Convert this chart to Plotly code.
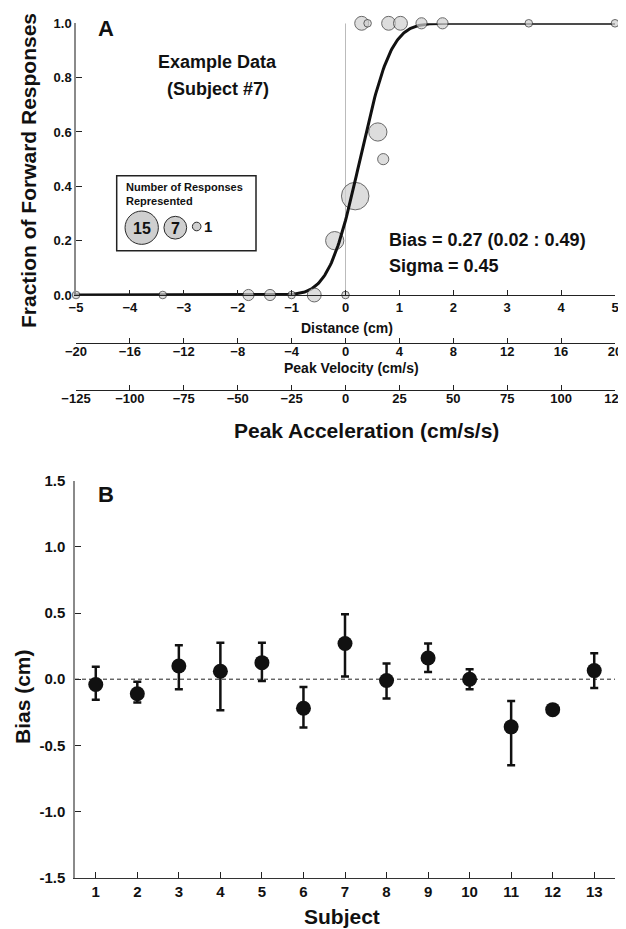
import math
import plotly.graph_objects as go

# page body has an 8px margin, so the figure is drawn 8px in from the top-left
OFF = 8
W, H = 626 - OFF, 929 - OFF
FONT = "Liberation Sans"

# ---------------- Panel A data (subject #7) ----------------
dist_cm = [-5.0, -3.39, -1.80, -1.40, -1.00, -0.58, 0.0, -0.20, 0.18, 0.60, 0.70,
           0.30, 0.41, 0.80, 1.02, 1.41, 1.80, 3.40, 5.0]
frac_fwd = [0.0, 0.0, 0.0, 0.0, 0.0, 0.0, 0.0, 0.20, 0.364, 0.60, 0.50,
            1.0, 1.0, 1.0, 1.0, 1.0, 1.0, 1.0, 1.0]
n_resp = [1, 1, 2, 2, 1, 3, 1, 5, 11, 5, 2,
          3, 1, 3, 3, 2, 2, 1, 1]
fit_bias = 0.27
fit_sigma = 0.45
legend_n = [15, 7, 1]

dist_ticks = [-5, -4, -3, -2, -1, 0, 1, 2, 3, 4, 5]
vel_ticks = [-20, -16, -12, -8, -4, 0, 4, 8, 12, 16, 20]
acc_ticks = [-125, -100, -75, -50, -25, 0, 25, 50, 75, 100, 125]
frac_ticks = [0.0, 0.2, 0.4, 0.6, 0.8, 1.0]

# ---------------- Panel B data ----------------
subjects = list(range(1, 14))
bias = [-0.04, -0.11, 0.10, 0.06, 0.125, -0.22, 0.27, -0.01, 0.16, 0.0, -0.36, -0.23, 0.065]
bias_hi = [0.095, -0.02, 0.257, 0.276, 0.276, -0.058, 0.49, 0.118, 0.269, 0.075, -0.164, -0.20, 0.196]
bias_lo = [-0.156, -0.177, -0.075, -0.234, -0.013, -0.365, 0.02, -0.146, 0.055, -0.075, -0.65, -0.26, -0.066]
bias_ticks = [-1.5, -1.0, -0.5, 0.0, 0.5, 1.0, 1.5]
bias_ticktext = ["-1.5", "-1.0", "-0.5", "0.0", "0.5", "1.0", "1.5"]


def px(x):
    return (x - OFF) / W


def py(y):
    return 1 - (y - OFF) / H


def diam(n):
    return 8.6 * math.sqrt(n) - 1


fig = go.Figure()

# fitted cumulative Gaussian
xs = [-5 + i * 0.02 for i in range(501)]
ys = [0.5 * (1 + math.erf((x - fit_bias) / (fit_sigma * math.sqrt(2)))) for x in xs]

mid = [i for i in range(len(dist_cm)) if 0 < frac_fwd[i] < 1]
edge = [i for i in range(len(dist_cm)) if not (0 < frac_fwd[i] < 1)]

marker_style = dict(color="#cfcfcf", line=dict(color="#2a2a2a", width=1))

fig.add_trace(go.Scatter(
    x=[dist_cm[i] for i in mid], y=[frac_fwd[i] for i in mid], mode="markers",
    marker=dict(size=[diam(n_resp[i]) for i in mid], **marker_style),
    cliponaxis=False, showlegend=False, hoverinfo="skip"))
fig.add_trace(go.Scatter(
    x=xs, y=ys, mode="lines", line=dict(color="#111111", width=3),
    cliponaxis=False, showlegend=False, hoverinfo="skip"))
fig.add_trace(go.Scatter(
    x=[dist_cm[i] for i in edge], y=[frac_fwd[i] for i in edge], mode="markers",
    marker=dict(size=[diam(n_resp[i]) for i in edge], **marker_style),
    cliponaxis=False, showlegend=False, hoverinfo="skip"))

# invisible traces to carry the secondary distance axes
fig.add_trace(go.Scatter(x=[vel_ticks[0], vel_ticks[-1]], y=[0, 0], xaxis="x2", yaxis="y",
                         mode="markers", marker=dict(opacity=0), showlegend=False, hoverinfo="skip"))
fig.add_trace(go.Scatter(x=[acc_ticks[0], acc_ticks[-1]], y=[0, 0], xaxis="x3", yaxis="y",
                         mode="markers", marker=dict(opacity=0), showlegend=False, hoverinfo="skip"))

# panel B
fig.add_trace(go.Scatter(
    x=subjects, y=bias, mode="markers", xaxis="x4", yaxis="y4",
    marker=dict(size=15, color="#111111"),
    error_y=dict(type="data", symmetric=False,
                 array=[h - b for h, b in zip(bias_hi, bias)],
                 arrayminus=[b - l for b, l in zip(bias, bias_lo)],
                 thickness=2.5, width=4, color="#111111"),
    showlegend=False, hoverinfo="skip"))

tickfont = dict(family=FONT, size=13, color="#111111", weight="bold")
common = dict(showgrid=False, zeroline=False, showline=True, ticks="inside",
              tickcolor="#222222", tickfont=tickfont, fixedrange=True, automargin=False,
              ticklabeloverflow="allow")
bigtick = dict(tickfont, size=15)

fig.update_layout(
    template="none",
    width=W, height=H, margin=dict(l=0, r=0, t=0, b=0, pad=0, autoexpand=False),
    paper_bgcolor="white", plot_bgcolor="white",
    xaxis=dict(domain=[px(76), px(615)], range=[-5, 5], anchor="y", tickvals=dist_ticks,
               ticklen=5, linecolor="#222222", linewidth=1, **common),
    yaxis=dict(domain=[py(295), py(23.3)], range=[0, 1], anchor="x", tickvals=frac_ticks,
               ticktext=["%.1f" % v for v in frac_ticks], ticklen=6,
               linecolor="#8a8a8a", linewidth=1.5, **common),
    xaxis2=dict(overlaying="x", anchor="free", position=py(343), side="bottom",
                range=[-20, 20], tickvals=vel_ticks, ticklen=5, ticklabelstandoff=-4,
                linecolor="#222222", linewidth=1, **common),
    xaxis3=dict(overlaying="x", anchor="free", position=py(390), side="bottom",
                range=[-125, 125], tickvals=acc_ticks, ticklen=5, ticklabelstandoff=-4,
                linecolor="#222222", linewidth=1, **common),
    xaxis4=dict(domain=[px(75), px(615)], range=[0.5, 13.5], anchor="y4", tickvals=subjects,
                ticklen=6, linecolor="#333333", linewidth=1.2,
                **{**common, "tickfont": bigtick}),
    yaxis4=dict(domain=[py(877.7), py(480.7)], range=[-1.5, 1.5], anchor="x4",
                tickvals=bias_ticks, ticktext=bias_ticktext, ticklen=6, ticklabelstandoff=5,
                linecolor="#8a8a8a", linewidth=1.5,
                **{**common, "tickfont": bigtick}),
)

shapes = [
    dict(type="line", xref="x", yref="y", x0=0, x1=0, y0=0, y1=1,
         line=dict(color="#bbbbbb", width=1), layer="below"),
    dict(type="line", xref="x4", yref="y4", x0=0.5, x1=13.5, y0=0, y1=0,
         line=dict(color="#222222", width=1, dash="4px,3px"), layer="below"),
    dict(type="rect", xref="paper", yref="paper", x0=px(116.7), x1=px(256),
         y0=py(250.7), y1=py(175.7), line=dict(color="#222222", width=1.5),
         fillcolor="white", layer="below"),
]
leg_cx = [141.7, 175.3, 196.7]
leg_cy = [227.7, 227.7, 226.5]
for n, cx, cy in zip(legend_n, leg_cx, leg_cy):
    r = (diam(n) + 1) / 2
    shapes.append(dict(type="circle", xref="paper", yref="paper",
                       x0=px(cx - r), x1=px(cx + r), y0=py(cy + r), y1=py(cy - r),
                       fillcolor="#cfcfcf", line=dict(color="#2a2a2a", width=1)))
fig.update_layout(shapes=shapes)


def ann(text, x, y, size, xanchor="center", angle=0):
    return dict(text="<b>%s</b>" % text, x=px(x), y=py(y), xref="paper", yref="paper",
                xanchor=xanchor, yanchor="middle", showarrow=False, textangle=angle,
                font=dict(family=FONT, size=size, color="#111111"))


annotations = [
    ann("A", 96, 28, 22, "left"),
    ann("Example Data", 217, 62, 18),
    ann("(Subject #7)", 218, 89, 18),
    ann("Bias = 0.27 (0.02 : 0.49)", 387, 239.5, 18, "left"),
    ann("Sigma = 0.45", 387, 266, 18, "left"),
    ann("Number of Responses", 124, 187, 11, "left"),
    ann("Represented", 124, 201, 11, "left"),
    ann(str(legend_n[0]), 141.7, 228, 16),
    ann(str(legend_n[1]), 175.3, 228, 16),
    ann(str(legend_n[2]), 207.5, 226.5, 15),
    ann("Distance (cm)", 347, 328, 14),
    ann("Peak Velocity (cm/s)", 351, 368, 14),
    ann("Peak Acceleration (cm/s/s)", 366, 430, 21),
    ann("Fraction of Forward Responses", 29, 171, 21, angle=-90),
    ann("B", 96, 494, 22, "left"),
    ann("Bias (cm)", 22, 697, 21, angle=-90),
    ann("Subject", 342, 916, 21),
]
fig.update_layout(annotations=annotations)

fig.write_html("out.html")
